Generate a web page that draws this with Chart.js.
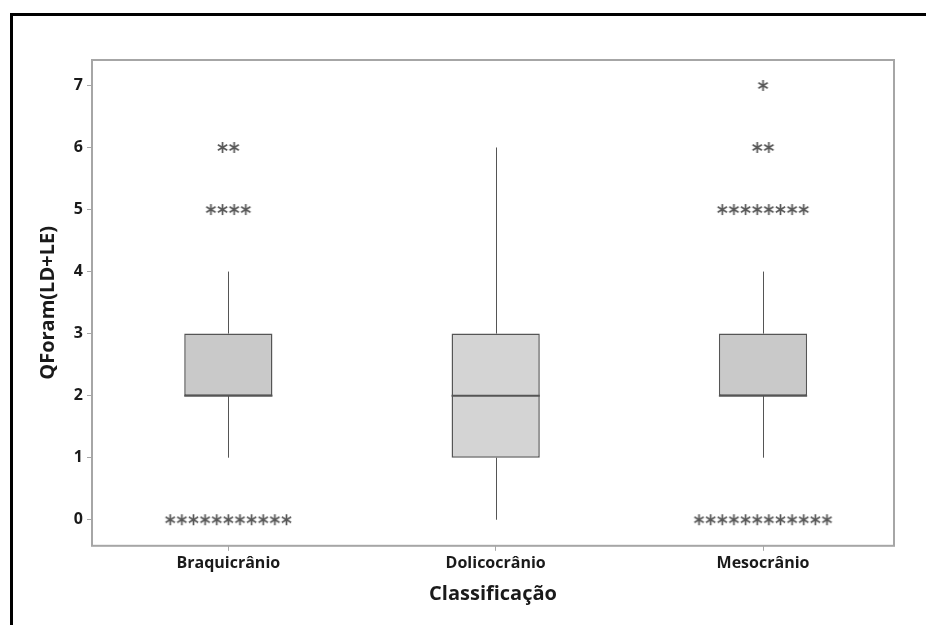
<!DOCTYPE html>
<html>
<head>
<meta charset="utf-8">
<script src="https://cdn.jsdelivr.net/npm/chart.js@4.4.1/dist/chart.umd.min.js"></script>
<style>
  html, body { margin: 0; padding: 0; background: #fff; }
  #wrap { width: 926px; height: 625px; position: relative; }
</style>
</head>
<body>
<div id="wrap"><canvas id="myChart"></canvas></div>
<script>
'use strict';

// categories and box statistics
var categories = ['Braquicrânio', 'Dolicocrânio', 'Mesocrânio'];
var whiskerLow = [1, 0, 1];
var q1 = [2, 1, 2];
var medians = [2, 2, 2];
var q3 = [3, 3, 3];
var whiskerHigh = [4, 6, 4];
// outliers: value and how many observations sit at that value
var outlierValues = [[0, 5, 6], [], [0, 5, 6, 7]];
var outlierCounts = [[11, 4, 2], [], [12, 8, 2, 1]];
var yTicks = [0, 1, 2, 3, 4, 5, 6, 7];

var boxFill = ['#c9c9c9', '#d4d4d4', '#c9c9c9'];
var lineGrey = '#555555';
var starGrey = '#585858';
var frameGrey = '#a6a6a6';
var spread = 0.0435; // horizontal step between repeated outliers

var FONT = '"Open Sans", "Noto Sans", sans-serif';

// asterisk symbol used for outliers
function makeStar() {
  var c = document.createElement('canvas');
  c.width = 13; c.height = 13;
  var g = c.getContext('2d');
  g.strokeStyle = starGrey;
  g.lineWidth = 1.7;
  var r = 5.4, cx = 6.5, cy = 6.5;
  g.beginPath();
  for (var k = 0; k < 3; k++) {
    var a = Math.PI / 2 + k * Math.PI / 3;
    g.moveTo(cx + r * Math.cos(a), cy + r * Math.sin(a));
    g.lineTo(cx - r * Math.cos(a), cy - r * Math.sin(a));
  }
  g.stroke();
  return c;
}

var boxData = categories.map(function (c, i) {
  return { x: i + 1, y: [q1[i], q3[i]] };
});

var outlierData = [];
outlierValues.forEach(function (vals, i) {
  vals.forEach(function (v, j) {
    var n = outlierCounts[i][j];
    for (var k = 0; k < n; k++) {
      outlierData.push({ x: i + 1 + (k - (n - 1) / 2) * spread, y: v });
    }
  });
});

var boxPlugin = {
  id: 'boxExtras',
  beforeDraw: function (chart) {
    var ctx = chart.ctx;
    ctx.save();
    ctx.fillStyle = '#fff';
    ctx.fillRect(0, 0, chart.width, chart.height);
    // outer black frame (top and left)
    ctx.strokeStyle = '#000';
    ctx.lineWidth = 3;
    ctx.beginPath();
    ctx.moveTo(11.5, chart.height);
    ctx.lineTo(11.5, 14.5);
    ctx.lineTo(chart.width, 14.5);
    ctx.stroke();
    ctx.restore();
  },
  beforeDatasetsDraw: function (chart) {
    var ctx = chart.ctx;
    var xs = chart.scales.x, ys = chart.scales.y;
    ctx.save();
    ctx.strokeStyle = lineGrey;
    ctx.lineWidth = 1;
    categories.forEach(function (c, i) {
      var px = Math.round(xs.getPixelForValue(i + 1)) + 0.5;
      ctx.beginPath();
      ctx.moveTo(px, ys.getPixelForValue(whiskerLow[i]));
      ctx.lineTo(px, ys.getPixelForValue(q1[i]));
      ctx.moveTo(px, ys.getPixelForValue(q3[i]));
      ctx.lineTo(px, ys.getPixelForValue(whiskerHigh[i]));
      ctx.stroke();
    });
    ctx.restore();
  },
  afterDatasetsDraw: function (chart) {
    var ctx = chart.ctx;
    var ys = chart.scales.y;
    var meta = chart.getDatasetMeta(0);
    ctx.save();
    ctx.strokeStyle = lineGrey;
    ctx.lineWidth = 2;
    meta.data.forEach(function (bar, i) {
      var py = ys.getPixelForValue(medians[i]);
      ctx.beginPath();
      ctx.moveTo(bar.x - bar.width / 2, py);
      ctx.lineTo(bar.x + bar.width / 2, py);
      ctx.stroke();
    });
    var a = chart.chartArea;
    ctx.strokeStyle = frameGrey;
    ctx.lineWidth = 2;
    ctx.strokeRect(a.left, a.top, a.right - a.left, a.bottom - a.top);
    ctx.restore();
  }
};

var ctx = document.getElementById('myChart');
new Chart(ctx, {
  type: 'bar',
  data: {
    datasets: [{
      type: 'bar',
      data: boxData,
      backgroundColor: boxFill,
      borderColor: lineGrey,
      borderWidth: 1.5,
      borderSkipped: false,
      categoryPercentage: 1,
      barPercentage: 0.33,
      grouped: false
    }, {
      type: 'scatter',
      data: outlierData,
      pointStyle: makeStar(),
      pointRadius: 6,
      pointHoverRadius: 6
    }]
  },
  options: {
    responsive: true,
    maintainAspectRatio: false,
    animation: false,
    events: [],
    layout: { padding: { top: 60, right: 32, bottom: 19, left: 0 } },
    plugins: { legend: { display: false }, tooltip: { enabled: false } },
    scales: {
      x: {
        type: 'linear',
        min: 0.49,
        max: 3.49,
        offset: false,
        afterBuildTicks: function (s) {
          s.ticks = categories.map(function (c, i) { return { value: i + 1 }; });
        },
        ticks: {
          callback: function (v) { return categories[Math.round(v) - 1]; },
          color: '#1a1a1a',
          font: { family: FONT, size: 16, weight: 'bold' },
          padding: 3,
          maxRotation: 0
        },
        grid: { offset: false, drawOnChartArea: false, drawTicks: true, tickLength: 5, color: frameGrey },
        border: { display: false },
        title: {
          display: true,
          text: 'Classificação',
          color: '#1a1a1a',
          font: { family: FONT, size: 20, weight: 'bold' },
          padding: { top: 6, bottom: 0 }
        }
      },
      y: {
        min: -0.42,
        max: 7.41,
        afterBuildTicks: function (s) {
          s.ticks = yTicks.map(function (v) { return { value: v }; });
        },
        afterFit: function (s) { s.width = 92; },
        ticks: {
          color: '#1a1a1a',
          font: { family: FONT, size: 16, weight: 'bold' },
          padding: 4
        },
        grid: { drawOnChartArea: false, drawTicks: true, tickLength: 5, color: frameGrey },
        border: { display: false },
        title: {
          display: true,
          text: 'QForam(LD+LE)',
          color: '#1a1a1a',
          font: { family: FONT, size: 20, weight: 'bold' },
          padding: { top: 36, bottom: 0 }
        }
      }
    }
  },
  plugins: [boxPlugin]
});
</script>
</body>
</html>
